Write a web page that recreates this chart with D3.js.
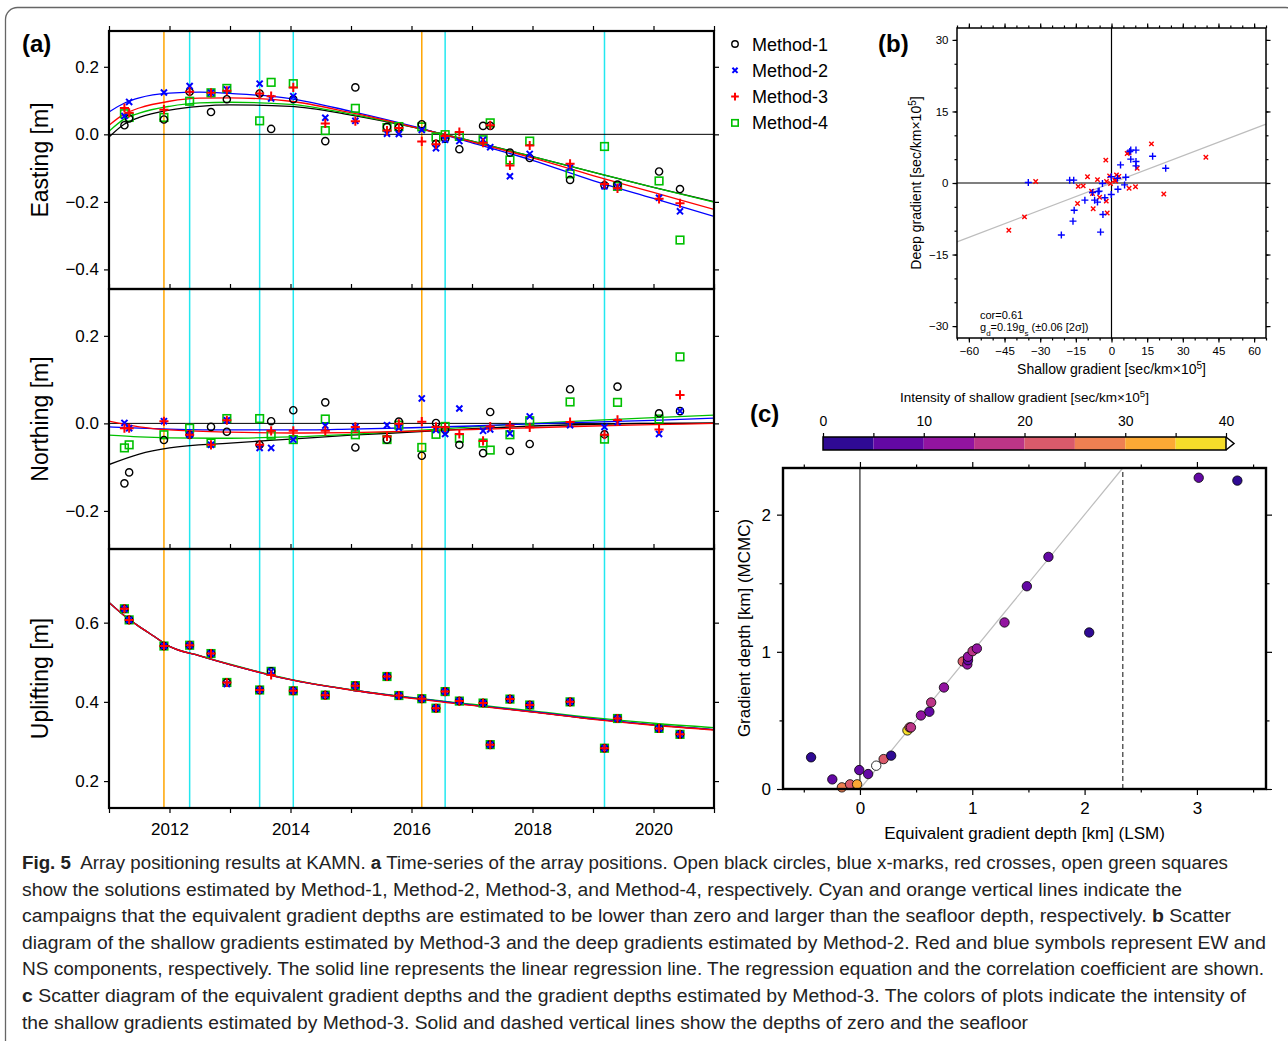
<!DOCTYPE html>
<html>
<head>
<meta charset="utf-8">
<script src="https://cdn.jsdelivr.net/npm/d3@7"></script>
<style>
body { margin: 0; background: #fff; }
svg { display: block; font-family: 'Liberation Sans', Arial, sans-serif; }
</style>
</head>
<body>
<svg id="fig" width="1288" height="1041"></svg>
<script>
// ---- panel (a) data: campaign epochs and positions [m] ----
const campaigns = [2011.255, 2011.333, 2011.908, 2012.333, 2012.686, 2012.948, 2013.49, 2013.68, 2014.046, 2014.575,
    2015.072, 2015.595, 2015.791, 2016.17, 2016.405, 2016.556, 2016.791, 2017.183, 2017.301, 2017.627,
    2017.954, 2018.621, 2019.19, 2019.405, 2020.092, 2020.438];
const cyanEpochs = [2012.333, 2013.49, 2014.046, 2016.556, 2019.19];
const orangeEpochs = [2011.908, 2016.17];

const eastM1 = [0.027, 0.047, 0.044, 0.126, 0.066, 0.104, 0.121, 0.016, 0.104, -0.02, 0.139, 0.022, 0.02, 0.03, -0.028, -0.013, -0.044, 0.025, 0.025, -0.054, -0.07, -0.135, -0.151, -0.149, -0.11, -0.162];
const eastM2 = [0.054, 0.096, 0.124, 0.143, 0.123, 0.133, 0.15, 0.106, 0.113, 0.049, 0.04, 0.002, 0.001, 0.013, -0.041, -0.016, -0.02, -0.016, -0.038, -0.124, -0.058, -0.098, -0.154, -0.155, -0.188, -0.228];
const eastM3 = [0.078, 0.064, 0.073, 0.126, 0.123, 0.129, 0.121, 0.113, 0.139, 0.032, 0.039, 0.011, 0.019, -0.021, -0.029, -0.005, 0.007, -0.025, 0.027, -0.092, -0.033, -0.087, -0.147, -0.16, -0.191, -0.204];
const eastM4 = [0.061, 0.05, 0.05, 0.098, 0.123, 0.136, 0.04, 0.154, 0.15, 0.011, 0.077, 0.02, 0.023, 0.022, -0.008, -0.001, -0.006, -0.016, 0.034, -0.076, -0.02, -0.117, -0.036, -0.154, -0.138, -0.313];

const northM1 = [-0.137, -0.112, -0.038, -0.026, -0.008, -0.019, -0.049, 0.005, 0.03, 0.048, -0.055, -0.037, 0.004, -0.074, 0.001, -0.015, -0.049, -0.068, 0.026, -0.063, -0.047, 0.078, -0.025, 0.084, 0.023, 0.028];
const northM2 = [0.001, -0.011, 0.005, -0.026, -0.049, 0.007, -0.056, -0.056, -0.037, -0.005, -0.008, -0.004, -0.01, 0.057, -0.015, -0.024, 0.034, -0.017, -0.014, -0.023, 0.016, -0.004, -0.008, 0.003, -0.024, 0.028];
const northM3 = [-0.011, -0.011, 0.005, -0.026, -0.049, 0.007, -0.049, -0.017, -0.017, -0.017, -0.008, -0.03, -0.001, 0.004, -0.008, -0.009, -0.024, -0.04, -0.007, -0.005, -0.009, 0.003, -0.026, 0.008, -0.014, 0.065];
const northM4 = [-0.056, -0.049, -0.026, -0.011, -0.045, 0.011, 0.011, -0.027, -0.037, 0.01, -0.026, -0.037, -0.004, -0.055, -0.025, -0.007, -0.034, -0.045, -0.061, -0.026, 0.006, 0.049, -0.036, 0.048, 0.01, 0.152];

const upM1 = [0.635, 0.607, 0.541, 0.543, 0.522, 0.449, 0.43, 0.477, 0.428, 0.417, 0.441, 0.464, 0.416, 0.408, 0.384, 0.426, 0.402, 0.397, 0.292, 0.407, 0.392, 0.4, 0.283, 0.358, 0.333, 0.318];
const upM2 = [0.635, 0.607, 0.541, 0.543, 0.522, 0.445, 0.43, 0.477, 0.428, 0.417, 0.441, 0.464, 0.416, 0.408, 0.384, 0.426, 0.402, 0.397, 0.292, 0.407, 0.392, 0.4, 0.283, 0.358, 0.333, 0.318];
const upM3 = [0.635, 0.607, 0.541, 0.543, 0.522, 0.449, 0.43, 0.468, 0.428, 0.417, 0.441, 0.464, 0.416, 0.408, 0.384, 0.426, 0.402, 0.397, 0.292, 0.407, 0.392, 0.4, 0.283, 0.358, 0.333, 0.318];
const upM4 = [0.635, 0.607, 0.541, 0.543, 0.522, 0.449, 0.43, 0.477, 0.428, 0.417, 0.441, 0.464, 0.416, 0.408, 0.384, 0.426, 0.402, 0.397, 0.292, 0.407, 0.392, 0.4, 0.283, 0.358, 0.333, 0.318];

const eastGrid = [2011, 2011.25, 2011.5, 2012, 2012.5, 2013, 2014, 2015, 2016, 2017, 2018, 2019, 2020, 2021];
const eastFitM1 = [-0.008, 0.03, 0.05, 0.072, 0.083, 0.087, 0.083, 0.057, 0.022, -0.02, -0.066, -0.112, -0.157, -0.199];
const eastFitM2 = [0.066, 0.092, 0.108, 0.122, 0.125, 0.121, 0.106, 0.068, 0.025, -0.025, -0.077, -0.137, -0.19, -0.243];
const eastFitM3 = [0.027, 0.06, 0.078, 0.098, 0.107, 0.108, 0.098, 0.064, 0.023, -0.022, -0.07, -0.122, -0.172, -0.222];
const eastFitM4 = [0.009, 0.045, 0.063, 0.083, 0.093, 0.095, 0.089, 0.06, 0.023, -0.02, -0.066, -0.112, -0.157, -0.201];

const northGrid = [2011, 2011.5, 2012, 2013, 2014, 2015, 2016, 2017, 2018, 2019, 2020, 2021];
const northFitM1 = [-0.094, -0.07, -0.056, -0.045, -0.036, -0.027, -0.02, -0.012, -0.006, -0.002, 0.0, 0.001];
const northFitM2 = [-0.008, -0.011, -0.013, -0.015, -0.015, -0.013, -0.01, -0.006, -0.001, 0.003, 0.007, 0.012];
const northFitM3 = [0.005, -0.008, -0.015, -0.02, -0.022, -0.021, -0.018, -0.014, -0.01, -0.006, -0.003, 0.0];
const northFitM4 = [-0.027, -0.031, -0.033, -0.034, -0.031, -0.025, -0.017, -0.008, 0.0, 0.007, 0.013, 0.019];

const upGrid = [2011, 2011.25, 2011.5, 2011.75, 2012, 2012.5, 2013, 2013.5, 2014, 2015, 2016, 2017, 2018, 2019, 2020, 2021];
const upFitM1 = [0.651, 0.618, 0.59, 0.565, 0.54, 0.516, 0.494, 0.474, 0.456, 0.43, 0.41, 0.392, 0.375, 0.357, 0.342, 0.33];
const upFitM2 = [0.651, 0.618, 0.59, 0.565, 0.54, 0.516, 0.494, 0.474, 0.456, 0.43, 0.41, 0.392, 0.375, 0.357, 0.342, 0.33];
const upFitM3 = [0.651, 0.618, 0.59, 0.565, 0.54, 0.516, 0.494, 0.474, 0.456, 0.43, 0.409, 0.391, 0.374, 0.356, 0.341, 0.329];
const upFitM4 = [0.651, 0.618, 0.59, 0.565, 0.54, 0.517, 0.495, 0.475, 0.457, 0.431, 0.411, 0.394, 0.377, 0.36, 0.346, 0.335];

const methods = ['Method-1', 'Method-2', 'Method-3', 'Method-4'];
const methodColors = ['#000000', '#0000ff', '#ff0000', '#00c000'];
const methodSymbols = ['circle', 'xmark', 'plus', 'square'];

// ---- panel (b) data: shallow vs deep gradient [sec/km x 10^5] ----
const ewShallow = [-31.9, -36.6, -43.2, -14.0, -11.9, -10.1, -5.9, -2.4, -2.1, -8.4, -8.0, -14.3, -7.7, -5.0, -2.2, -1.8, -0.8, -0.4, 1.4, 1.7, 2.1, 3.1, 6.6, 7.4, 7.4, 10.1, 10.8, 16.8, 22.0, 39.7];
const ewDeep = [0.3, -7.1, -9.9, -0.7, -0.6, 1.3, 0.7, 4.8, 0.3, -1.7, -2.2, -4.3, -5.4, -3.0, -3.8, -6.3, 1.5, -0.1, 0.6, 0.4, 1.7, 1.4, 6.2, 6.4, -1.1, -0.8, 3.1, 8.2, -2.3, 5.4];
const nsShallow = [-35.0, -17.6, -15.9, -15.7, -16.2, -21.1, -11.2, -7.1, -8.0, -5.6, -5.2, -5.9, -4.6, -3.8, -3.6, -2.8, -0.1, -0.1, 2.5, 2.7, 3.8, 5.5, 6.0, 8.1, 8.1, 7.7, 10.3, 10.3, 10.3, 17.3, 22.8];
const nsDeep = [0.1, 0.6, 0.6, -5.7, -8.0, -10.9, -3.6, -3.6, -2.0, -1.8, -1.7, -4.0, -10.3, -0.1, -6.6, -3.1, -2.4, 1.3, 1.0, -1.3, 3.8, -0.4, 1.2, 5.0, 6.9, 6.6, 6.9, 4.5, 3.6, 5.6, 3.1];
const regSlope = 0.19;

// ---- panel (c) data: depths [km] and shallow gradient intensity ----
const lsmDepth = [-0.435, -0.246, -0.161, -0.088, -0.025, -0.006, 0.073, 0.145, 0.211, 0.278, 0.423, 0.442, 0.454, 0.543, 0.618, 0.634, 0.748, 0.915, 0.956, 0.962, 0.962, 1.003, 1.041, 1.287, 1.486, 1.678, 2.041, 3.016, 3.36];
const mcmcDepth = [0.231, 0.07, 0.012, 0.034, 0.034, 0.138, 0.109, 0.17, 0.218, 0.243, 0.427, 0.449, 0.449, 0.536, 0.563, 0.631, 0.74, 0.93, 0.908, 0.939, 0.964, 1.005, 1.024, 1.214, 1.478, 1.692, 1.141, 2.269, 2.248];
const shallowIntensity = [3, 8, 27, 22, 32, 9, 7, null, 23, 4, 37, 22, 17, 12, 8, 17, 12, 22, 11, 8, 13, 17, 12, 13, 7, 8, 3, 7, 4];
const seafloorDepth = 2.34;
const cptBounds = [0, 5, 10, 15, 20, 25, 30, 35, 40];
const cptColors = ['#2f0a94', '#6308a4', '#9214a0', '#bc3587', '#da5a6b', '#ef8052', '#fca935', '#f5dd2a'];

const svg = d3.select('#fig');
svg.append('rect').attr('width', 1288).attr('height', 1041).attr('fill', '#fff');

// outer caption box
svg.append('rect')
    .attr('x', 5.5).attr('y', 7.5).attr('width', 1292).attr('height', 1100).attr('rx', 12)
    .attr('fill', 'none').attr('stroke', '#666').attr('stroke-width', 1.3);

function symbol(g, kind, color, s) {
    if (kind === 'circle') {
        g.append('circle').attr('r', s * 0.95).attr('fill', 'none').attr('stroke', color).attr('stroke-width', 1.4);
    } else if (kind === 'xmark') {
        const d = s * 0.8;
        g.append('path').attr('d', `M${-d},${-d}L${d},${d}M${-d},${d}L${d},${-d}`)
            .attr('stroke', color).attr('stroke-width', 2).attr('fill', 'none');
    } else if (kind === 'plus') {
        const d = s * 1.2;
        g.append('path').attr('d', `M${-d},0H${d}M0,${-d}V${d}`)
            .attr('stroke', color).attr('stroke-width', 2).attr('fill', 'none');
    } else {
        const d = s;
        g.append('rect').attr('x', -d).attr('y', -d).attr('width', 2 * d).attr('height', 2 * d)
            .attr('fill', 'none').attr('stroke', color).attr('stroke-width', 1.6);
    }
}

function styleAxis(g, fontSize) {
    g.select('.domain').remove();
    g.selectAll('line').attr('stroke', '#000').attr('stroke-width', 1.2);
    g.selectAll('text').attr('fill', '#000').attr('font-size', fontSize)
        .attr('font-family', "'Liberation Sans', Arial, sans-serif");
}

// ================= panel (a) =================
const aLeft = 109, aRight = 714;
const xa = d3.scaleLinear().domain([2011, 2021]).range([aLeft, aRight]);
const yearTicks = d3.range(2011, 2022);

const panels = [
    {top: 31, bottom: 289, domain: [-0.458, 0.306], ticks: [-0.4, -0.2, 0, 0.2], label: 'Easting [m]', zero: true,
        pts: [eastM1, eastM2, eastM3, eastM4], grid: eastGrid, fits: [eastFitM1, eastFitM2, eastFitM3, eastFitM4]},
    {top: 289, bottom: 549, domain: [-0.287, 0.307], ticks: [-0.2, 0, 0.2], label: 'Northing [m]', zero: true,
        pts: [northM1, northM2, northM3, northM4], grid: northGrid, fits: [northFitM1, northFitM2, northFitM3, northFitM4]},
    {top: 549, bottom: 808, domain: [0.132, 0.786], ticks: [0.2, 0.4, 0.6], label: 'Uplifting [m]', zero: false,
        pts: [upM1, upM2, upM3, upM4], grid: upGrid, fits: [upFitM1, upFitM2, upFitM3, upFitM4]}
];

panels.forEach((p, pi) => {
    const y = d3.scaleLinear().domain(p.domain).range([p.bottom, p.top]);
    const g = svg.append('g');
    const clipId = 'clipA' + pi;
    svg.append('clipPath').attr('id', clipId).append('rect')
        .attr('x', aLeft).attr('y', p.top).attr('width', aRight - aLeft).attr('height', p.bottom - p.top);
    const inner = g.append('g').attr('clip-path', `url(#${clipId})`);

    orangeEpochs.forEach(t => {
        inner.append('line').attr('x1', xa(t)).attr('x2', xa(t)).attr('y1', p.top).attr('y2', p.bottom)
            .attr('stroke', '#ffa500').attr('stroke-width', 1.5);
    });
    cyanEpochs.forEach(t => {
        inner.append('line').attr('x1', xa(t)).attr('x2', xa(t)).attr('y1', p.top).attr('y2', p.bottom)
            .attr('stroke', '#22e8f0').attr('stroke-width', 1.5);
    });
    if (p.zero) {
        inner.append('line').attr('x1', aLeft).attr('x2', aRight).attr('y1', y(0)).attr('y2', y(0))
            .attr('stroke', '#000').attr('stroke-width', 1);
    }

    const line = d3.line().x((d, i) => xa(p.grid[i])).y(d => y(d)).curve(d3.curveMonotoneX);
    [0, 3, 1, 2].forEach(m => {
        inner.append('path').attr('d', line(p.fits[m])).attr('fill', 'none')
            .attr('stroke', methodColors[m]).attr('stroke-width', 1.3);
    });

    [3, 0, 1, 2].forEach(m => {
        p.pts[m].forEach((v, i) => {
            const s = inner.append('g').attr('transform', `translate(${xa(campaigns[i])},${y(v)})`);
            symbol(s, methodSymbols[m], methodColors[m], 3.8);
        });
    });

    // axes (ticks outside on all sides)
    const left = g.append('g').attr('transform', `translate(${aLeft},0)`)
        .call(d3.axisLeft(y).tickValues(p.ticks).tickSize(5).tickPadding(5).tickFormat(d3.format('.1f')));
    styleAxis(left, 17);
    const right = g.append('g').attr('transform', `translate(${aRight},0)`)
        .call(d3.axisRight(y).tickValues(p.ticks).tickSize(5).tickFormat(''));
    styleAxis(right, 17);
    const top = g.append('g').attr('transform', `translate(0,${p.top})`)
        .call(d3.axisTop(xa).tickValues(yearTicks).tickSize(5).tickFormat(''));
    styleAxis(top, 17);
    if (pi === 2) {
        const bottom = g.append('g').attr('transform', `translate(0,${p.bottom})`)
            .call(d3.axisBottom(xa).tickValues(yearTicks).tickSize(5).tickPadding(10)
                .tickFormat(d => d % 2 === 0 ? d : ''));
        styleAxis(bottom, 17);
    }

    g.append('rect').attr('x', aLeft).attr('y', p.top).attr('width', aRight - aLeft).attr('height', p.bottom - p.top)
        .attr('fill', 'none').attr('stroke', '#000').attr('stroke-width', 2.2);

    g.append('text').attr('transform', `translate(48,${(p.top + p.bottom) / 2}) rotate(-90)`)
        .attr('text-anchor', 'middle').attr('font-size', 23).text(p.label);
});

svg.append('text').attr('x', 22).attr('y', 52).attr('font-size', 24).attr('font-weight', 'bold').text('(a)');

// legend
const legend = svg.append('g');
methods.forEach((m, i) => {
    const row = legend.append('g').attr('transform', `translate(735,${44 + i * 26.3})`);
    symbol(row, methodSymbols[i], methodColors[i], i === 0 ? 3.4 : 3.2);
    row.append('text').attr('x', 17).attr('y', 6.5).attr('font-size', 18).text(m);
});

// ================= panel (b) =================
const xb = d3.scaleLinear().domain([-65, 65]).range([957, 1266]);
const yb = d3.scaleLinear().domain([-32.5, 32.5]).range([338, 28]);
const gb = svg.append('g');
const bMinorX = d3.range(-65, 66, 5), bMajorX = d3.range(-60, 61, 15);
const bMinorY = d3.range(-30, 31, 5), bMajorY = d3.range(-30, 31, 15);

gb.append('line').attr('x1', xb(0)).attr('x2', xb(0)).attr('y1', yb(32.5)).attr('y2', yb(-32.5)).attr('stroke', '#000').attr('stroke-width', 1.2);
gb.append('line').attr('x1', xb(-65)).attr('x2', xb(65)).attr('y1', yb(0)).attr('y2', yb(0)).attr('stroke', '#000').attr('stroke-width', 1.2);
gb.append('line').attr('x1', xb(-65)).attr('x2', xb(65)).attr('y1', yb(-65 * regSlope)).attr('y2', yb(65 * regSlope))
    .attr('stroke', '#bdbdbd').attr('stroke-width', 1.2);

ewShallow.forEach((v, i) => {
    const s = gb.append('g').attr('transform', `translate(${xb(v)},${yb(ewDeep[i])})`);
    s.append('path').attr('d', 'M-2.2,-2.2L2.2,2.2M-2.2,2.2L2.2,-2.2').attr('stroke', '#ff0000').attr('stroke-width', 1.4);
});
nsShallow.forEach((v, i) => {
    const s = gb.append('g').attr('transform', `translate(${xb(v)},${yb(nsDeep[i])})`);
    s.append('path').attr('d', 'M-3.5,0H3.5M0,-3.5V3.5').attr('stroke', '#0000ff').attr('stroke-width', 1.4);
});

[['Bottom', 338, bMinorX, 2.5, ''], ['Bottom', 338, bMajorX, 4.5, 'lab'],
 ['Top', 28, bMinorX, 2.5, ''], ['Top', 28, bMajorX, 4.5, '']].forEach(([side, pos, vals, size, lab]) => {
    const ax = (side === 'Bottom' ? d3.axisBottom(xb) : d3.axisTop(xb)).tickValues(vals).tickSize(size).tickPadding(4)
        .tickFormat(lab ? d3.format('d') : '');
    styleAxis(gb.append('g').attr('transform', `translate(0,${pos})`).call(ax), 11.5);
});
[['Left', 957, bMinorY, 2.5, ''], ['Left', 957, bMajorY, 4.5, 'lab'],
 ['Right', 1266, bMinorY, 2.5, ''], ['Right', 1266, bMajorY, 4.5, '']].forEach(([side, pos, vals, size, lab]) => {
    const ax = (side === 'Left' ? d3.axisLeft(yb) : d3.axisRight(yb)).tickValues(vals).tickSize(size).tickPadding(4)
        .tickFormat(lab ? d3.format('d') : '');
    styleAxis(gb.append('g').attr('transform', `translate(${pos},0)`).call(ax), 11.5);
});
gb.append('rect').attr('x', 957).attr('y', 28).attr('width', 309).attr('height', 310)
    .attr('fill', 'none').attr('stroke', '#000').attr('stroke-width', 1.5);

const bYLab = gb.append('text').attr('transform', `translate(921,${yb(0)}) rotate(-90)`)
    .attr('text-anchor', 'middle').attr('font-size', 14);
bYLab.append('tspan').text('Deep gradient [sec/km×10');
bYLab.append('tspan').attr('baseline-shift', 'super').attr('font-size', 10).text('5');
bYLab.append('tspan').text(']');
const bXLab = gb.append('text').attr('x', xb(0)).attr('y', 374).attr('text-anchor', 'middle').attr('font-size', 14);
bXLab.append('tspan').text('Shallow gradient [sec/km×10');
bXLab.append('tspan').attr('baseline-shift', 'super').attr('font-size', 10).text('5');
bXLab.append('tspan').text(']');

gb.append('text').attr('x', 980).attr('y', 319).attr('font-size', 11).text('cor=0.61');
const eq = gb.append('text').attr('x', 980).attr('y', 331).attr('font-size', 11);
eq.append('tspan').text('g');
eq.append('tspan').attr('baseline-shift', 'sub').attr('font-size', 8).text('d');
eq.append('tspan').text('=0.19g');
eq.append('tspan').attr('baseline-shift', 'sub').attr('font-size', 8).text('s');
eq.append('tspan').text(' (±0.06 [2σ])');

svg.append('text').attr('x', 878).attr('y', 52).attr('font-size', 24).attr('font-weight', 'bold').text('(b)');

// ================= panel (c) =================
const xc = d3.scaleLinear().domain([-0.685, 3.615]).range([783, 1266]);
const yc = d3.scaleLinear().domain([0, seafloorDepth]).range([789, 468]);
const gc = svg.append('g');
const color = d3.scaleThreshold().domain(cptBounds.slice(1, -1)).range(cptColors);

gc.append('line').attr('x1', xc(0)).attr('x2', xc(0)).attr('y1', yc(0)).attr('y2', yc(seafloorDepth))
    .attr('stroke', '#000').attr('stroke-width', 1);
gc.append('line').attr('x1', xc(seafloorDepth)).attr('x2', xc(seafloorDepth)).attr('y1', yc(0)).attr('y2', yc(seafloorDepth))
    .attr('stroke', '#444').attr('stroke-width', 1.3).attr('stroke-dasharray', '5,3');
gc.append('line').attr('x1', xc(0)).attr('x2', xc(seafloorDepth)).attr('y1', yc(0)).attr('y2', yc(seafloorDepth))
    .attr('stroke', '#bdbdbd').attr('stroke-width', 1.2);

gc.selectAll('circle.pt').data(lsmDepth).enter().append('circle')
    .attr('cx', d => xc(d)).attr('cy', (d, i) => yc(mcmcDepth[i])).attr('r', 4.7)
    .attr('fill', (d, i) => shallowIntensity[i] === null ? '#fff' : color(shallowIntensity[i]))
    .attr('stroke', '#000').attr('stroke-width', 0.8);

const cMajX = [0, 1, 2, 3], cMinX = [-0.5, 0.5, 1.5, 2.5, 3.5];
const cMajY = [0, 1, 2], cMinY = [0.5, 1.5];
styleAxis(gc.append('g').attr('transform', 'translate(0,789)')
    .call(d3.axisBottom(xc).tickValues(cMajX).tickSize(6).tickPadding(7).tickFormat(d3.format('d'))), 17);
styleAxis(gc.append('g').attr('transform', 'translate(0,789)')
    .call(d3.axisBottom(xc).tickValues(cMinX).tickSize(3.5).tickFormat('')), 17);
styleAxis(gc.append('g').attr('transform', 'translate(0,468)')
    .call(d3.axisTop(xc).tickValues(cMajX).tickSize(6).tickFormat('')), 17);
styleAxis(gc.append('g').attr('transform', 'translate(0,468)')
    .call(d3.axisTop(xc).tickValues(cMinX).tickSize(3.5).tickFormat('')), 17);
styleAxis(gc.append('g').attr('transform', 'translate(783,0)')
    .call(d3.axisLeft(yc).tickValues(cMajY).tickSize(6).tickPadding(6).tickFormat(d3.format('d'))), 17);
styleAxis(gc.append('g').attr('transform', 'translate(783,0)')
    .call(d3.axisLeft(yc).tickValues(cMinY).tickSize(3.5).tickFormat('')), 17);
styleAxis(gc.append('g').attr('transform', 'translate(1266,0)')
    .call(d3.axisRight(yc).tickValues(cMajY).tickSize(6).tickFormat('')), 17);
styleAxis(gc.append('g').attr('transform', 'translate(1266,0)')
    .call(d3.axisRight(yc).tickValues(cMinY).tickSize(3.5).tickFormat('')), 17);
gc.append('rect').attr('x', 783).attr('y', 468).attr('width', 483).attr('height', 321)
    .attr('fill', 'none').attr('stroke', '#000').attr('stroke-width', 2.4);

gc.append('text').attr('x', (783 + 1266) / 2).attr('y', 839).attr('text-anchor', 'middle').attr('font-size', 17)
    .text('Equivalent gradient depth [km] (LSM)');
gc.append('text').attr('transform', 'translate(750,628) rotate(-90)').attr('text-anchor', 'middle').attr('font-size', 17)
    .text('Gradient depth [km] (MCMC)');

// colour bar
const cb = d3.scaleLinear().domain([0, 40]).range([823, 1226]);
const cbTop = 437, cbH = 13;
cptColors.forEach((c, i) => {
    gc.append('rect').attr('x', cb(cptBounds[i])).attr('y', cbTop).attr('width', cb(cptBounds[i + 1]) - cb(cptBounds[i]))
        .attr('height', cbH).attr('fill', c);
});
gc.append('path').attr('d', `M${cb(40)},${cbTop}L${cb(40) + 8},${cbTop + cbH / 2}L${cb(40)},${cbTop + cbH}`)
    .attr('fill', '#fff').attr('stroke', '#000').attr('stroke-width', 1.5);
gc.append('rect').attr('x', cb(0)).attr('y', cbTop).attr('width', cb(40) - cb(0)).attr('height', cbH)
    .attr('fill', 'none').attr('stroke', '#000').attr('stroke-width', 1.5);
styleAxis(gc.append('g').attr('transform', `translate(0,${cbTop})`)
    .call(d3.axisTop(cb).tickValues(cptBounds).tickSize(4).tickPadding(7).tickFormat(d => d % 10 === 0 ? d : '')), 14);
const cbTitle = gc.append('text').attr('x', cb(20)).attr('y', 402).attr('text-anchor', 'middle').attr('font-size', 13.5);
cbTitle.append('tspan').text('Intensity of shallow gradient [sec/km×10');
cbTitle.append('tspan').attr('baseline-shift', 'super').attr('font-size', 9.5).text('5');
cbTitle.append('tspan').text(']');

svg.append('text').attr('x', 750).attr('y', 422).attr('font-size', 24).attr('font-weight', 'bold').text('(c)');

// ================= caption =================
const captionLines = [
    [['Fig. 5', true], ['  Array positioning results at KAMN. ', false], ['a', true], [' Time-series of the array positions. Open black circles, blue x-marks, red crosses, open green squares', false]],
    [['show the solutions estimated by Method-1, Method-2, Method-3, and Method-4, respectively. Cyan and orange vertical lines indicate the', false]],
    [['campaigns that the equivalent gradient depths are estimated to be lower than zero and larger than the seafloor depth, respectively. ', false], ['b', true], [' Scatter', false]],
    [['diagram of the shallow gradients estimated by Method-3 and the deep gradients estimated by Method-2. Red and blue symbols represent EW and', false]],
    [['NS components, respectively. The solid line represents the linear regression line. The regression equation and the correlation coefficient are shown.', false]],
    [['c', true], [' Scatter diagram of the equivalent gradient depths and the gradient depths estimated by Method-3. The colors of plots indicate the intensity of', false]],
    [['the shallow gradients estimated by Method-3. Solid and dashed vertical lines show the depths of zero and the seafloor', false]]
];
const captionEnds = [1228, 1182, 1231, 1266, 1264, 1246, 1028];
captionLines.forEach((segs, i) => {
    const t = svg.append('text').attr('x', 22).attr('y', 869 + i * 26.6)
        .attr('font-family', "'Liberation Sans Narrow', 'Liberation Sans', sans-serif")
        .attr('font-size', 18).attr('fill', '#222').style('white-space', 'pre')
        .attr('textLength', captionEnds[i] - 22).attr('lengthAdjust', 'spacingAndGlyphs');
    segs.forEach(([txt, bold]) => {
        t.append('tspan').attr('font-weight', bold ? 'bold' : 'normal').text(txt);
    });
});
</script>
</body>
</html>
